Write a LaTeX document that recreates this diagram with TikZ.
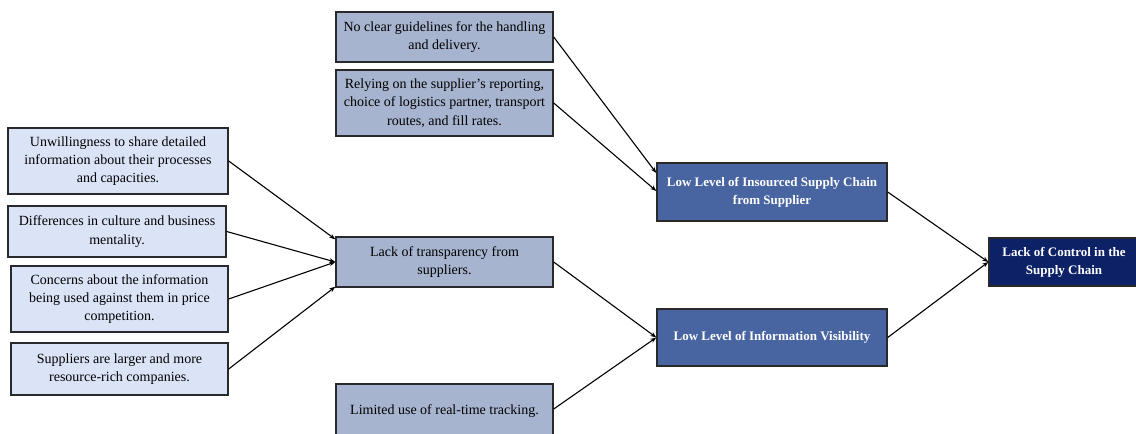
\documentclass[tikz,border=0pt]{standalone}
\usepackage{fontspec}
\setmainfont{Liberation Serif}
\usetikzlibrary{arrows.meta}
\definecolor{causeFill}{RGB}{219,228,247}
\definecolor{midFill}{RGB}{166,180,207}
\definecolor{effectFill}{RGB}{72,101,161}
\definecolor{rootFill}{RGB}{12,33,102}
\definecolor{frame}{RGB}{40,40,45}
\tikzset{
  box/.style={draw=frame, line width=1.4pt, inner sep=0pt, align=center,
    font=\fontsize{14}{18.3}\selectfont},
  causebox/.style={box, fill=causeFill},
  midbox/.style={box, fill=midFill},
  effectbox/.style={box, fill=effectFill, text=white,
    font=\fontsize{13}{18}\selectfont\bfseries},
  rootbox/.style={effectbox, fill=rootFill},
  link/.style={line width=1.1pt, -{Stealth[length=6pt,width=4.5pt]}},
}
\begin{document}
\begin{tikzpicture}[x=1pt,y=-1pt]
\useasboundingbox (0,0) rectangle (1136,434);
\fill[white] (0,0) rectangle (1136,434);

% left column: sources of low transparency
\node[causebox, minimum width=220, minimum height=66] (l1) at (118,161)
  {Unwillingness to share detailed\\information about their processes\\and capacities.};
\node[causebox, minimum width=218, minimum height=51] (l2) at (117,231.5)
  {Differences in culture and business\\mentality.};
\node[causebox, minimum width=217, minimum height=66] (l3) at (119.5,299)
  {Concerns about the information\\being used against them in price\\competition.};
\node[causebox, minimum width=217, minimum height=52] (l4) at (119.5,369)
  {Suppliers are larger and more\\resource-rich companies.};

% middle column
\node[midbox, minimum width=217, minimum height=50] (m1) at (444.5,37)
  {No clear guidelines for the handling\\and delivery.};
\node[midbox, minimum width=217, minimum height=66] (m2) at (444.5,103)
  {Relying on the supplier's reporting,\\choice of logistics partner, transport\\routes, and fill rates.};
\node[midbox, minimum width=217, minimum height=50] (m3) at (444.5,262)
  {Lack of transparency from\\suppliers.};
\node[midbox, minimum width=217, minimum height=54] (m4) at (444.5,411)
  {\raisebox{2pt}{Limited use of real-time tracking.}};

% right column
\node[effectbox, minimum width=230, minimum height=58] (r1) at (772,192)
  {Low Level of Insourced Supply Chain\\from Supplier};
\node[effectbox, minimum width=230, minimum height=57] (r2) at (772,337.5)
  {Low Level of Information Visibility};
\node[rootbox, minimum width=150, minimum height=48] (root) at (1064,262)
  {Lack of Control in the\\Supply Chain};

% connectors
\draw[link] (l1.east) -- ([yshift=-3pt]m3.north west);
\draw[link] (l2.east) -- (m3.west);
\draw[link] (l3.east) -- (m3.west);
\draw[link] (l4.east) -- ([yshift=1pt]m3.south west);

\draw[link] (m1.east) -- ([yshift=19pt]r1.west);
\draw[link] (m2.east) -- ([yshift=1pt]r1.west);
\draw[link] (m3.east) -- (r2.west);
\draw[link] ([yshift=2pt]m4.east) -- (r2.west);

\draw[link] (r1.east) -- (root.west);
\draw[link] (r2.east) -- (root.west);
\end{tikzpicture}
\end{document}
